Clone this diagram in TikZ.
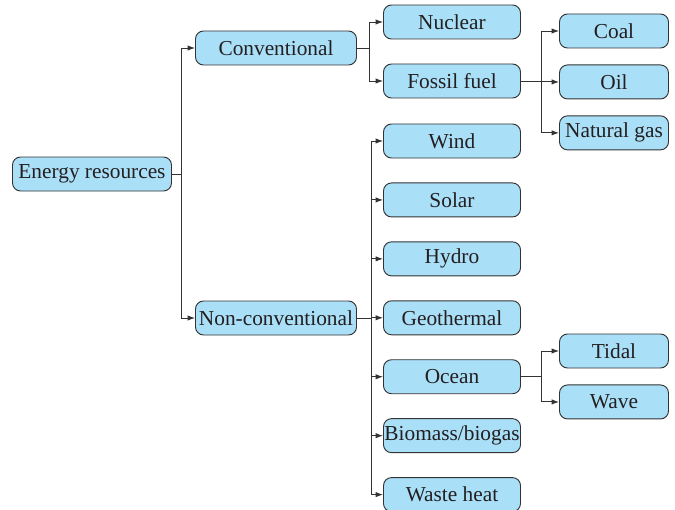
\documentclass[tikz,border=0pt]{standalone}
\usepackage{fontspec}
\setmainfont{Liberation Serif}
\usepackage{xcolor}
\usetikzlibrary{arrows.meta, positioning}
\definecolor{BoxBlue}{HTML}{AADFF8}
\definecolor{EdgeInk}{HTML}{333333}
\definecolor{TextInk}{HTML}{231F20}
\begin{document}
\begin{tikzpicture}[x=0.75pt,y=-0.75pt,font=\fontsize{16}{19}\selectfont,every node/.style={text=TextInk},itembox/.style={draw=EdgeInk,fill=BoxBlue,rounded corners=6pt,line width=0.7pt,minimum height=25.5pt,inner xsep=0.5pt,inner ysep=1pt},groupbox/.style={itembox,minimum width=120.75pt},leafbox/.style={itembox,minimum width=102.75pt},smallbox/.style={itembox,minimum width=81.75pt},branch/.style={-{Latex[length=5.5pt,width=4pt]},draw=EdgeInk,line width=0.7pt},node distance=18pt]
\useasboundingbox (0,0) rectangle (675,510);
\node[itembox, minimum width=119.25pt] (energy) at (92,174) {Energy resources};
\node[groupbox] (conv) at (276,48) {Conventional};
\node[groupbox] (nonconv) at (276,318) {Non-conventional};
\node[leafbox] (nuclear) at (452,22) {Nuclear};
\node[leafbox] (fossil) at (452,81) {Fossil fuel};
\node[smallbox] (coal) at (614,31) {Coal};
\node[smallbox, below=12pt of coal] (oil) {Oil};
\node[smallbox, below=12pt of oil] (gas) {Natural gas};
\node[leafbox] (wind) at (452,141) {Wind};
\node[leafbox, below=of wind] (solar) {Solar};
\node[leafbox, below=of solar] (hydro) {Hydro};
\node[leafbox, below=of hydro] (geo) {Geothermal};
\node[leafbox, below=of geo] (ocean) {Ocean};
\node[leafbox, below=of ocean] (bio) {Biomass/biogas};
\node[leafbox, below=of bio] (waste) {Waste heat};
\node[smallbox] (tidal) at (614,351) {Tidal};
\node[smallbox, below=12pt of tidal] (wave) {Wave};
\draw[branch] (energy.east) -- +(9,0) |- (conv.west);
\draw[branch] (energy.east) -- +(9,0) |- (nonconv.west);
\draw[branch] (conv.east) -- +(12,0) |- (nuclear.west);
\draw[branch] (conv.east) -- +(12,0) |- (fossil.west);
\draw[branch] (fossil.east) -- +(20,0) |- (coal.west);
\draw[branch] (fossil.east) -- +(20,0) |- (oil.west);
\draw[branch] (fossil.east) -- +(20,0) |- (gas.west);
\foreach \kind in {wind,solar,hydro,geo,ocean,bio,waste}
  \draw[branch] (nonconv.east) -- +(14,0) |- (\kind.west);
\draw[branch] (ocean.east) -- +(20,0) |- (tidal.west);
\draw[branch] (ocean.east) -- +(20,0) |- (wave.west);
\end{tikzpicture}
\end{document}
